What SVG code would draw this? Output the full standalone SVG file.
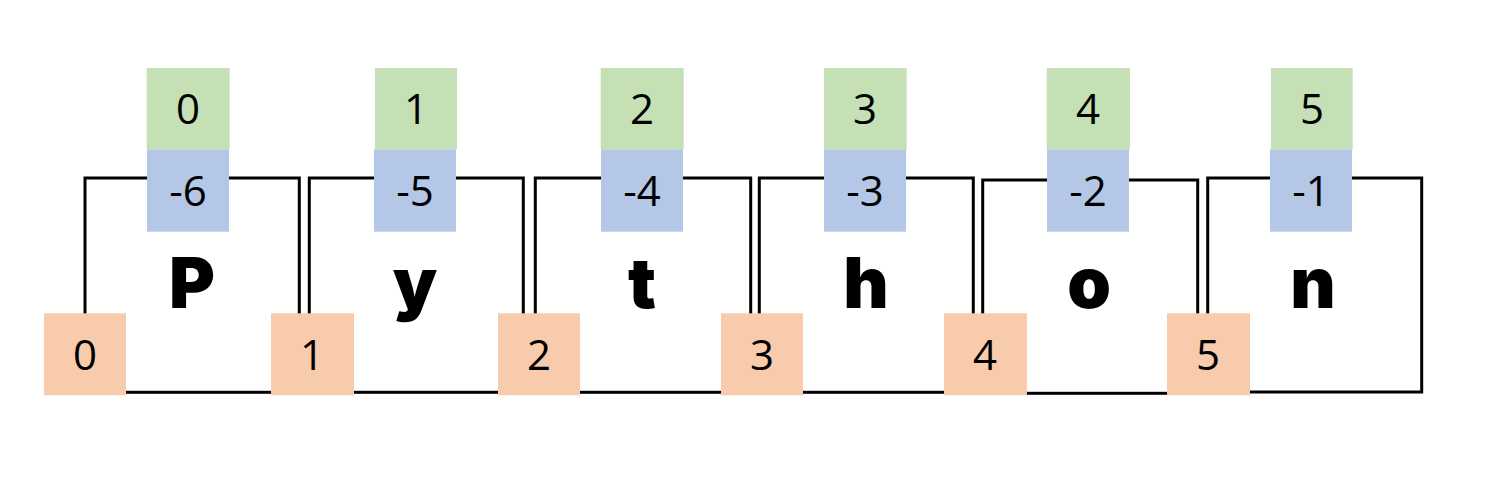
<svg xmlns="http://www.w3.org/2000/svg" width="1490" height="486" viewBox="0 0 1490 486">
<style>
.frame{fill:none;stroke:#000;stroke-width:3}
.g{fill:#C5E0B4}
.b{fill:#B4C7E7}
.o{fill:#F8CBAD}
.num{font-family:"Open Sans","Noto Sans","Liberation Sans",sans-serif;font-size:42px;fill:#000;text-anchor:middle}
.ch{font-family:"Inter","Lato","DejaVu Sans",sans-serif;font-weight:900;font-size:70px;fill:#000;text-anchor:middle}
</style>
<rect width="1490" height="486" fill="#fff"/>
<g id="connectors">
<rect class="frame" x="85" y="178" width="214.3" height="214.3"/>
<rect class="frame" x="309.3" y="178" width="214" height="214.3"/>
<rect class="frame" x="535.3" y="178" width="215.4" height="214.3"/>
<rect class="frame" x="759.3" y="178" width="214" height="214.3"/>
<rect class="frame" x="982.7" y="180" width="215" height="213.3"/>
<rect class="frame" x="1207.7" y="178" width="214" height="214"/>
</g>
<g id="cell-P">
<text class="ch" x="192" y="308">P</text>
<rect class="g" x="146.7" y="68" width="83" height="81.3"/>
<text class="num" x="188" y="124">0</text>
<rect class="b" x="147" y="149.3" width="82" height="82.4"/>
<text class="num" x="188" y="206">-6</text>
</g>
<g id="cell-y">
<text class="ch" x="415" y="308">y</text>
<rect class="g" x="375" y="68" width="82" height="81.3"/>
<text class="num" x="416" y="124">1</text>
<rect class="b" x="374" y="149.3" width="82" height="82.4"/>
<text class="num" x="415" y="206">-5</text>
</g>
<g id="cell-t">
<text class="ch" x="642" y="308">t</text>
<rect class="g" x="600.7" y="68" width="83" height="81.3"/>
<text class="num" x="642" y="124">2</text>
<rect class="b" x="601" y="149.3" width="82" height="82.4"/>
<text class="num" x="642" y="206">-4</text>
</g>
<g id="cell-h">
<text class="ch" x="866" y="308">h</text>
<rect class="g" x="824" y="68" width="82.7" height="81.3"/>
<text class="num" x="865" y="124">3</text>
<rect class="b" x="824" y="149.3" width="82" height="82.4"/>
<text class="num" x="865" y="206">-3</text>
</g>
<g id="cell-o">
<text class="ch" x="1089" y="308">o</text>
<rect class="g" x="1046.7" y="68" width="83.3" height="81.3"/>
<text class="num" x="1088" y="124">4</text>
<rect class="b" x="1047" y="149.3" width="82" height="82.4"/>
<text class="num" x="1088" y="206">-2</text>
</g>
<g id="cell-n">
<text class="ch" x="1313" y="308">n</text>
<rect class="g" x="1271" y="68" width="81.7" height="81.3"/>
<text class="num" x="1312" y="124">5</text>
<rect class="b" x="1270" y="149.3" width="82" height="82.4"/>
<text class="num" x="1311" y="206">-1</text>
</g>
<g id="slice-0"><rect class="o" x="44" y="313.3" width="82" height="82"/><text class="num" x="85" y="370">0</text></g>
<g id="slice-1"><rect class="o" x="271" y="313.3" width="83" height="82"/><text class="num" x="312" y="370">1</text></g>
<g id="slice-2"><rect class="o" x="498" y="313.3" width="82" height="82"/><text class="num" x="539" y="370">2</text></g>
<g id="slice-3"><rect class="o" x="721" y="313.3" width="82" height="82"/><text class="num" x="762" y="370">3</text></g>
<g id="slice-4"><rect class="o" x="944" y="313.3" width="83" height="82"/><text class="num" x="985" y="370">4</text></g>
<g id="slice-5"><rect class="o" x="1167" y="313.3" width="83" height="82"/><text class="num" x="1208" y="370">5</text></g>
</svg>
